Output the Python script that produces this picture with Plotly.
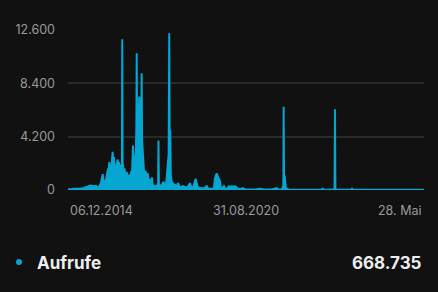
import plotly.graph_objects as go

dates = [
    "2014-12-06", "2014-12-25", "2015-01-20", "2015-02-15", "2015-03-10", "2015-04-05",
    "2015-05-01", "2015-06-01", "2015-06-25", "2015-07-20", "2015-08-10", "2015-09-05",
    "2015-10-01", "2015-11-01", "2015-11-20", "2015-12-06", "2015-12-29", "2016-01-10",
    "2016-01-18", "2016-01-28", "2016-02-10", "2016-02-26", "2016-03-01", "2016-03-10",
    "2016-03-16", "2016-03-22", "2016-03-28", "2016-04-05", "2016-04-12", "2016-04-19",
    "2016-04-28", "2016-05-02", "2016-05-08", "2016-05-15", "2016-05-22", "2016-05-30",
    "2016-06-03", "2016-06-10", "2016-06-16", "2016-06-23", "2016-06-28", "2016-07-05",
    "2016-07-13", "2016-07-21", "2016-07-28", "2016-08-03", "2016-08-10", "2016-08-15",
    "2016-08-21", "2016-08-27", "2016-09-01", "2016-09-05", "2016-09-09", "2016-09-14",
    "2016-09-19", "2016-09-25", "2016-10-01", "2016-10-07", "2016-10-13", "2016-10-19",
    "2016-10-25", "2016-11-01", "2016-11-05", "2016-11-11", "2016-11-18", "2016-11-25",
    "2016-11-30", "2016-12-05", "2016-12-12", "2016-12-22", "2016-12-28", "2017-01-03",
    "2017-01-09", "2017-01-15", "2017-01-25", "2017-02-02", "2017-02-12", "2017-02-18",
    "2017-02-22", "2017-02-26", "2017-03-05", "2017-03-15", "2017-03-24", "2017-03-30",
    "2017-04-07", "2017-04-17", "2017-04-21", "2017-04-26", "2017-05-07", "2017-05-12",
    "2017-05-18", "2017-05-24", "2017-05-30", "2017-06-04", "2017-06-10", "2017-06-16",
    "2017-06-23", "2017-06-28", "2017-07-05", "2017-07-10", "2017-07-16", "2017-07-23",
    "2017-07-29", "2017-08-03", "2017-08-10", "2017-08-17", "2017-08-21", "2017-08-27",
    "2017-09-13", "2017-10-07", "2017-10-25", "2017-11-01", "2017-11-05", "2017-11-10",
    "2017-11-23", "2017-12-16", "2018-01-03", "2018-01-21", "2018-02-05", "2018-02-13",
    "2018-02-25", "2018-03-05", "2018-03-12", "2018-03-17", "2018-03-24", "2018-03-30",
    "2018-04-07", "2018-04-25", "2018-05-18", "2018-06-10", "2018-06-23", "2018-07-05",
    "2018-07-16", "2018-08-21", "2018-09-25", "2018-10-15", "2018-11-11", "2018-11-25",
    "2018-12-16", "2019-01-05", "2019-01-17", "2019-01-30", "2019-02-13", "2019-03-20",
    "2019-04-25", "2019-05-27", "2019-06-10", "2019-06-23", "2019-07-28", "2019-08-20",
    "2019-09-01", "2019-09-21", "2019-10-05", "2019-10-12", "2019-10-30", "2019-11-10",
    "2019-11-23", "2019-12-16", "2020-01-01", "2020-01-20", "2020-02-13", "2020-02-28",
    "2020-03-19", "2020-04-05", "2020-04-24", "2020-05-10", "2020-05-29", "2020-07-03",
    "2020-07-20", "2020-08-19", "2020-10-17", "2020-12-15", "2021-02-12", "2021-03-10",
    "2021-04-12", "2021-06-10", "2021-08-31", "2021-09-15", "2021-10-29", "2021-11-14",
    "2021-11-18", "2021-11-22", "2021-12-01", "2021-12-08", "2021-12-15", "2022-01-02",
    "2022-01-20", "2022-03-31", "2022-09-24", "2023-02-12", "2023-02-20", "2023-02-28",
    "2023-05-17", "2023-07-10", "2023-07-15", "2023-07-20", "2023-07-29", "2023-11-09",
    "2024-01-25", "2024-01-31", "2024-02-06", "2024-05-04", "2024-12-25", "2025-08-18",
    "2026-05-28",
]

views = [
    60, 90, 80, 100, 90, 110,
    100, 150, 180, 250, 320, 350,
    300, 330, 200, 250, 550, 1000,
    1250, 700, 600, 800, 900, 1200,
    1500, 1700, 1300, 2200, 1900, 1500,
    2000, 1700, 2500, 3000, 2000, 2600,
    2100, 1700, 1400, 1800, 2000, 2200,
    2400, 1600, 2200, 1500, 1800, 2000,
    1700, 1400, 1800, 11870, 2100, 1900,
    1300, 1600, 1700, 1500, 1100, 1200,
    1400, 1300, 800, 900, 1200, 1100,
    800, 1000, 1300, 1500, 1100, 2000,
    3500, 2000, 2700, 2400, 3000, 5000,
    10760, 5200, 5600, 5400, 7350, 5500,
    5300, 5200, 9190, 4000, 2000, 1700,
    1500, 1100, 1300, 1500, 1400, 900,
    800, 1200, 1300, 700, 600, 900,
    500, 700, 800, 500, 1000, 400,
    350, 300, 400, 600, 3900, 500,
    300, 400, 650, 350, 600, 1200,
    1800, 2800, 12340, 3500, 4700, 1200,
    700, 500, 400, 300, 550, 250,
    200, 300, 200, 250, 520, 250,
    200, 600, 890, 500, 200, 150,
    120, 300, 100, 120, 80, 150,
    900, 1310, 1000, 950, 700, 150,
    100, 300, 100, 90, 300, 250,
    300, 250, 300, 200, 120, 80,
    150, 60, 50, 40, 100, 50,
    30, 30, 150, 30, 40, 300,
    6560, 1200, 1050, 200, 60, 100,
    20, 20, 20, 20, 150, 20,
    20, 60, 6350, 60, 20, 20,
    20, 150, 20, 15, 10, 10,
    10,
]
assert len(dates) == len(views)

x_range = ["2014-12-06", "2026-05-28"]
x_tick_dates = ["2014-12-06", "2020-08-31", "2026-05-28"]
x_tick_labels = ["06.12.2014", "31.08.2020", "28. Mai"]
y_ticks = [0, 4200, 8400, 12600]
series_name = "Aufrufe"
total_label = "668.735"

CYAN = "#05a6d2"
BG = "#111111"

fig = go.Figure()
fig.add_trace(go.Scatter(
    x=dates, y=views, mode="lines", name=series_name,
    line=dict(color=CYAN, width=2),
    fill="tozeroy", fillcolor=CYAN,
    showlegend=False, hoverinfo="skip",
))

fig.update_layout(
    width=438, height=292,
    margin=dict(l=68, r=14, t=30, b=102),
    paper_bgcolor=BG, plot_bgcolor=BG,
    separators=",.",
    font=dict(family="Inter, Roboto, sans-serif", color="#9a9a9a", size=12),
    showlegend=False,
    xaxis=dict(
        type="date", range=x_range, showgrid=False, zeroline=False,
        showticklabels=False, showline=False, fixedrange=True,
    ),
    yaxis=dict(
        range=[0, 12600], tickvals=y_ticks, tickformat=",d",
        showgrid=True, gridcolor="#2a2a2a", gridwidth=1.5,
        zeroline=False, showline=False, ticks="",
        ticklabelstandoff=12,
        tickfont=dict(size=12.5, color="#9a9a9a"),
    ),
)

anchors = ["left", "center", "right"]
for d, lab, anc in zip(x_tick_dates, x_tick_labels, anchors):
    fig.add_annotation(
        x=d, xref="x", y=-0.125, yref="paper", text=lab, showarrow=False,
        xanchor=anc, yanchor="middle",
        font=dict(size=12.5, color="#9a9a9a"),
    )

# legend row
fig.add_shape(
    type="circle", xref="paper", yref="paper",
    x0=(16 - 68) / 356, x1=(22 - 68) / 356,
    y0=(190 - 265) / 160, y1=(190 - 259) / 160,
    fillcolor=CYAN, line=dict(width=0),
)
fig.add_annotation(
    x=(35 - 68) / 356, xref="paper", y=(190 - 262.5) / 160, yref="paper",
    text="<b>" + series_name + "</b>", showarrow=False,
    xanchor="left", yanchor="middle",
    font=dict(size=17, color="#eeeeee"),
)
fig.add_annotation(
    x=1.0, xref="paper", y=(190 - 262.5) / 160, yref="paper",
    text="<b>" + total_label + "</b>", showarrow=False,
    xanchor="right", yanchor="middle",
    font=dict(size=17, color="#eeeeee"),
)

fig.write_html("out.html", config=dict(displayModeBar=False))
